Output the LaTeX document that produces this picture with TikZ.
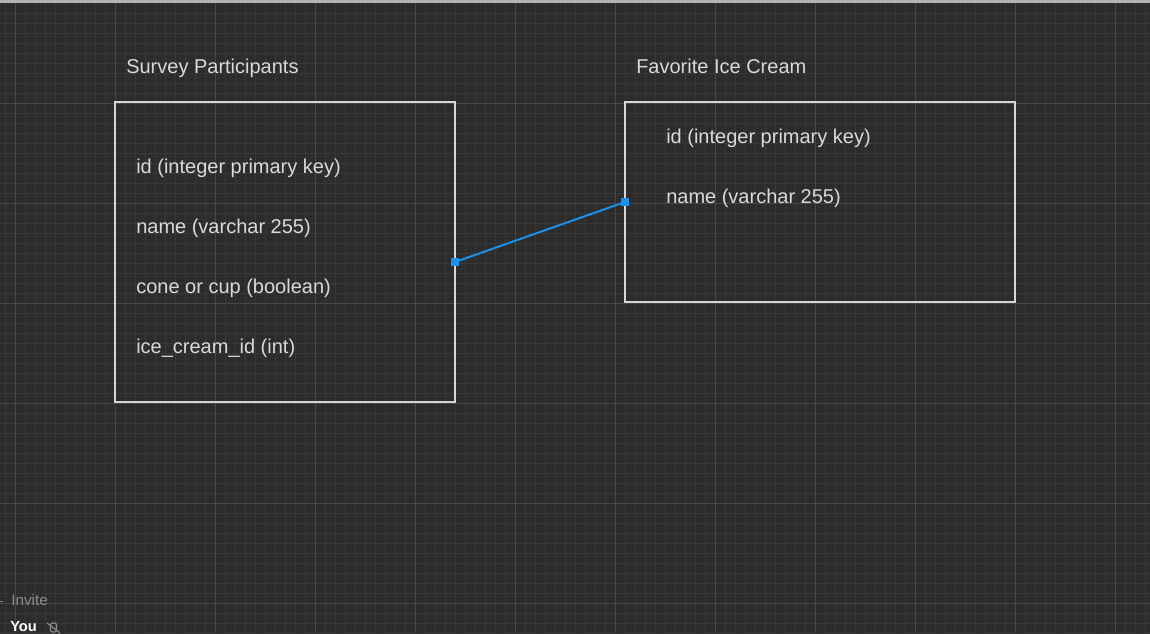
\documentclass[tikz,border=0pt]{standalone}
\usepackage{xcolor}
\usepackage{tikz}
\usepackage{fontspec}
\setmainfont{Liberation Sans}

\definecolor{canvasBg}{HTML}{2C2C2C}
\definecolor{gridMinor}{HTML}{383838}
\definecolor{gridMajor}{HTML}{474747}
\definecolor{boxLine}{HTML}{D6D6D6}
\definecolor{fieldText}{HTML}{D9D9D9}
\definecolor{linkBlue}{HTML}{1E8FE6}
\definecolor{portBlue}{HTML}{1A90F0}
\definecolor{dimText}{HTML}{8C8C8C}

\tikzset{
  tablebox/.style={draw=boxLine, line width=1.5pt},
  tabletitle/.style={anchor=base west, inner sep=0pt, text=fieldText, font=\fontsize{15}{18}\selectfont},
  fieldrow/.style={anchor=base west, inner sep=0pt, text=fieldText, font=\fontsize{15}{18}\selectfont},
  port/.style={fill=portBlue, draw=none, minimum size=6pt, inner sep=0pt},
  link/.style={draw=linkBlue, line width=1.5pt},
  sidetext/.style={anchor=base west, inner sep=0pt, font=\fontsize{11.5}{13}\selectfont}
}

\begin{document}
\begin{tikzpicture}[x=0.75pt,y=0.75pt,yscale=-1,xscale=1]
\useasboundingbox (0,0) rectangle (1150,633);
\clip (0,0) rectangle (1150,633);
\fill[canvasBg] (0,0) rectangle (1150,633);

% grid
\foreach \gx in {5,15,...,1145}
  \draw[gridMinor, line width=0.75pt] (\gx,0) -- (\gx,633);
\foreach \gy in {13,23,...,633}
  \draw[gridMinor, line width=0.75pt] (0,\gy) -- (1150,\gy);
\foreach \gx in {15,115,...,1115}
  \draw[gridMajor, line width=0.75pt] (\gx,0) -- (\gx,633);
\foreach \gy in {103,203,...,603}
  \draw[gridMajor, line width=0.75pt] (0,\gy) -- (1150,\gy);
\fill[boxLine!80!canvasBg] (0,0) rectangle (1150,2.5);

% tables
\draw[tablebox] (115,102) rectangle (455,402);
\draw[tablebox] (625,102) rectangle (1015,302);

\node[tabletitle] (partTitle) at (126,73) {Survey Participants};
\node[tabletitle] (creamTitle) at (636,73) {Favorite Ice Cream};

\node[fieldrow] (partId) at (136,173) {id (integer primary key)};
\node[fieldrow] (partName) at (136,233) {name (varchar 255)};
\node[fieldrow] (partCone) at (136,293) {cone or cup (boolean)};
\node[fieldrow] (partCream) at (136,353) {ice\_cream\_id (int)};

\node[fieldrow] (creamId) at (666,143) {id (integer primary key)};
\node[fieldrow] (creamName) at (666,203) {name (varchar 255)};

% relation
\coordinate (partPortPos) at (455,262);
\coordinate (creamPortPos) at (625,202);
\draw[link] (partPortPos) -- (creamPortPos);
\node[port] (partPort) at (partPortPos) {};
\node[port] (creamPort) at (creamPortPos) {};

% bottom corner
\draw[dimText, line width=0.75pt] (0,601) -- (3,601);
\node[sidetext, text=dimText] (inviteLabel) at (11,605.5) {Invite};
\node[sidetext, text=white, font=\fontsize{11}{12}\bfseries] (youLabel) at (10,631.5) {You};
\node[inner sep=0pt] (micIcon) at (54,628) {};
\draw[dimText, line width=0.9pt] (47,623) -- (60,633);
\draw[dimText, line width=0.9pt, rounded corners=1.5pt] (50.5,623) rectangle (56.5,632);
\end{tikzpicture}
\end{document}
